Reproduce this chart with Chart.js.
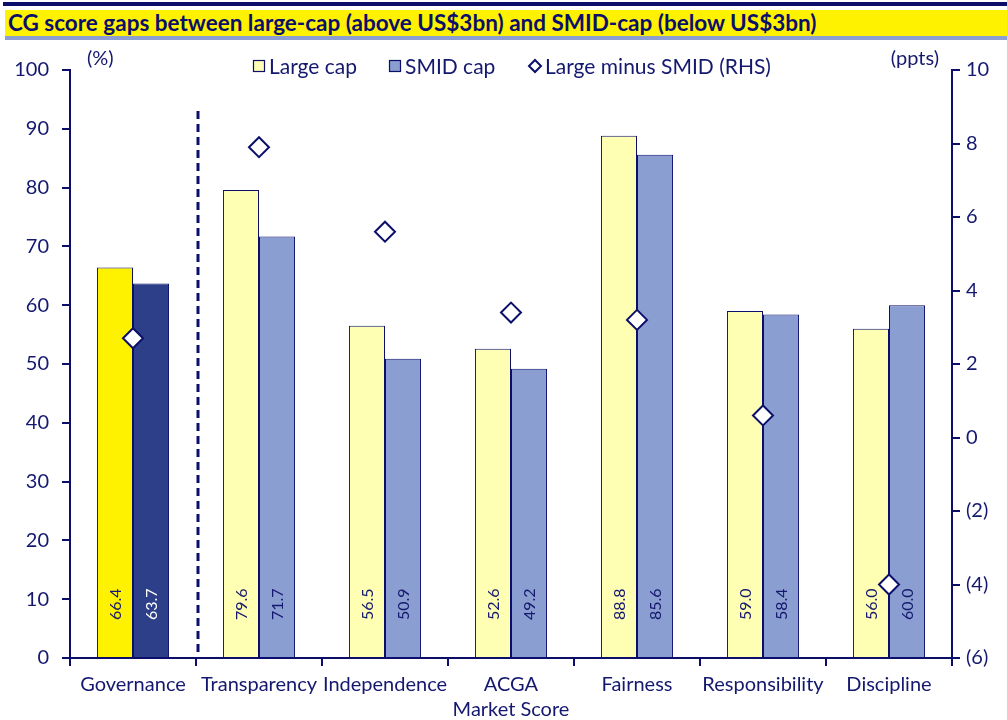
<!DOCTYPE html>
<html>
<head>
<meta charset="utf-8">
<script src="https://cdn.jsdelivr.net/npm/chart.js@4/dist/chart.umd.min.js"></script>
<style>
  html, body { margin: 0; padding: 0; background: #ffffff; }
  body { width: 1007px; height: 720px; position: relative; overflow: hidden; font-family: Lato, "Open Sans", sans-serif; }
  .topRule { position: absolute; left: 3px; top: 2px; width: 1004px; height: 4px; background: #0b0f6b; }
  .titleBand { position: absolute; left: 5px; top: 10px; width: 1002px; height: 26px; background: #fff200; }
  .underRule { position: absolute; left: 5px; top: 36px; width: 1002px; height: 4px; background: #8c9fd0; }
  .title { position: absolute; left: 8px; top: 10px; height: 26px; line-height: 26px; font-weight: 700; font-size: 22.5px;
           color: #0b0f6b; letter-spacing: 0; white-space: nowrap; }
  canvas { position: absolute; left: 0; top: 0; }
</style>
</head>
<body>
<div class="topRule"></div>
<div class="titleBand"></div>
<div class="underRule"></div>
<div class="title">CG score gaps between large-cap (above US$3bn) and SMID-cap (below US$3bn)</div>
<canvas id="chart" width="1007" height="720"></canvas>
<script>
// Scores by category (%), and the gap in percentage points
const categories = ['Governance', 'Transparency', 'Independence', ['ACGA', 'Market Score'], 'Fairness', 'Responsibility', 'Discipline'];
const largeCap = [66.4, 79.6, 56.5, 52.6, 88.8, 59.0, 56.0];
const smidCap  = [63.7, 71.7, 50.9, 49.2, 85.6, 58.4, 60.0];
const gapPpts  = [2.7, 7.9, 5.6, 3.4, 3.2, 0.6, -4.0];
const leftTicks  = [0, 10, 20, 30, 40, 50, 60, 70, 80, 90, 100];
const rightTicks = [-6, -4, -2, 0, 2, 4, 6, 8, 10];

const NAVY = '#0b0f6b';
const TEXT = '#14186e';
const FONT = 'Lato, "Open Sans", sans-serif';

// The overall "Governance" pair is highlighted in stronger colours
const largeFill = largeCap.map((v, i) => i === 0 ? '#fff200' : '#ffffb4');
const smidFill  = smidCap.map((v, i) => i === 0 ? '#2d3f89' : '#8b9ed1');

const fmtRight = v => v < 0 ? '(' + Math.abs(v) + ')' : String(v);

// Vertical values written inside each bar near its base
const barLabels = {
  id: 'barLabels',
  afterDatasetsDraw(chart) {
    const ctx = chart.ctx;
    ctx.save();
    ctx.font = '16px ' + FONT;
    ctx.textAlign = 'left';
    ctx.textBaseline = 'middle';
    [0, 1].forEach(di => {
      const meta = chart.getDatasetMeta(di);
      const data = chart.data.datasets[di].data;
      meta.data.forEach((bar, i) => {
        const base = chart.scales.y.getPixelForValue(0);
        ctx.save();
        ctx.translate(bar.x, base - 38);
        ctx.rotate(-Math.PI / 2);
        ctx.fillStyle = (di === 1 && i === 0) ? '#ffffff' : TEXT;
        ctx.fillText(data[i].toFixed(1), 0, 1);
        ctx.restore();
      });
    });
    ctx.restore();
  }
};

// Dashed divider between the overall score and its components, plus axis unit captions and legend
const decorations = {
  id: 'decorations',
  beforeDatasetsDraw(chart) {
    const ctx = chart.ctx;
    const x = chart.scales.x;
    const area = chart.chartArea;
    const xd = (x.getPixelForValue(0) + x.getPixelForValue(1)) / 2 + 2;
    ctx.save();
    ctx.strokeStyle = NAVY;
    ctx.lineWidth = 3;
    ctx.setLineDash([8, 5]);
    ctx.beginPath();
    ctx.moveTo(xd, 111);
    ctx.lineTo(xd, area.bottom);
    ctx.stroke();
    ctx.restore();
  },
  afterDraw(chart) {
    const ctx = chart.ctx;
    ctx.save();
    ctx.fillStyle = TEXT;
    ctx.font = '20px ' + FONT;
    ctx.textBaseline = 'middle';
    ctx.textAlign = 'left';
    ctx.fillText('(%)', 87, 59);
    ctx.textAlign = 'right';
    ctx.fillText('(ppts)', 939, 59);

    // legend
    const ds = chart.data.datasets;
    const ly = 66;
    ctx.font = '21px ' + FONT;
    ctx.textAlign = 'left';
    const items = [
      { x: 253, label: ds[0].label, type: 'box', fill: '#ffffb4' },
      { x: 389, label: ds[1].label, type: 'box', fill: '#8b9ed1' },
      { x: 529, label: ds[2].label, type: 'diamond' }
    ];
    items.forEach(it => {
      ctx.lineWidth = 1.2;
      ctx.strokeStyle = NAVY;
      if (it.type === 'box') {
        ctx.fillStyle = it.fill;
        ctx.fillRect(it.x, ly - 6, 12, 12);
        ctx.strokeRect(it.x + 0.5, ly - 5.5, 11, 11);
      } else {
        ctx.lineWidth = 2;
        ctx.fillStyle = '#ffffff';
        ctx.beginPath();
        ctx.moveTo(it.x + 6, ly - 6);
        ctx.lineTo(it.x + 12, ly);
        ctx.lineTo(it.x + 6, ly + 6);
        ctx.lineTo(it.x, ly);
        ctx.closePath();
        ctx.fill();
        ctx.stroke();
      }
      ctx.fillStyle = TEXT;
      ctx.fillText(it.label, it.x + 16, ly + 1);
    });
    ctx.restore();
  }
};

new Chart(document.getElementById('chart'), {
  type: 'bar',
  data: {
    labels: categories,
    datasets: [
      { label: 'Large cap', data: largeCap, backgroundColor: largeFill, borderColor: NAVY, borderWidth: 1,
        yAxisID: 'y', order: 2, categoryPercentage: 0.572, barPercentage: 1.0 },
      { label: 'SMID cap', data: smidCap, backgroundColor: smidFill, borderColor: NAVY, borderWidth: 1,
        yAxisID: 'y', order: 2, categoryPercentage: 0.572, barPercentage: 1.0 },
      { type: 'line', label: 'Large minus SMID (RHS)', data: gapPpts, yAxisID: 'y1', showLine: false,
        pointStyle: 'rectRot', pointRadius: 10, pointHoverRadius: 10, pointBackgroundColor: '#ffffff',
        pointBorderColor: NAVY, pointBorderWidth: 2, order: 1 }
    ]
  },
  options: {
    responsive: false,
    animation: false,
    devicePixelRatio: 1,
    layout: { padding: { top: 70, bottom: 0, left: 0, right: 0 } },
    plugins: { legend: { display: false }, tooltip: { enabled: false }, title: { display: false } },
    scales: {
      x: {
        offset: true,
        grid: { display: true, drawOnChartArea: false, offset: true, color: NAVY, lineWidth: 2, tickLength: 8 },
        border: { color: NAVY, width: 2 },
        ticks: { color: TEXT, font: { family: FONT, size: 20, lineHeight: 1.25 }, maxRotation: 0, autoSkip: false, padding: 6 },
        afterFit(s) { s.height = 62; }
      },
      y: {
        position: 'left', min: 0, max: 100,
        afterBuildTicks(s) { s.ticks = leftTicks.map(v => ({ value: v })); },
        grid: { drawOnChartArea: false, color: NAVY, lineWidth: 2, tickLength: 8 },
        border: { color: NAVY, width: 2 },
        ticks: { color: TEXT, font: { family: FONT, size: 20 }, padding: 13 },
        afterFit(s) { s.width = 70; }
      },
      y1: {
        position: 'right', min: -6, max: 10,
        afterBuildTicks(s) { s.ticks = rightTicks.map(v => ({ value: v })); },
        grid: { drawOnChartArea: false, color: NAVY, lineWidth: 2, tickLength: 8 },
        border: { color: NAVY, width: 2 },
        ticks: { color: TEXT, font: { family: FONT, size: 20 }, padding: 6, callback: v => fmtRight(v) },
        afterFit(s) { s.width = 55; }
      }
    }
  },
  plugins: [barLabels, decorations]
});
</script>
</body>
</html>
